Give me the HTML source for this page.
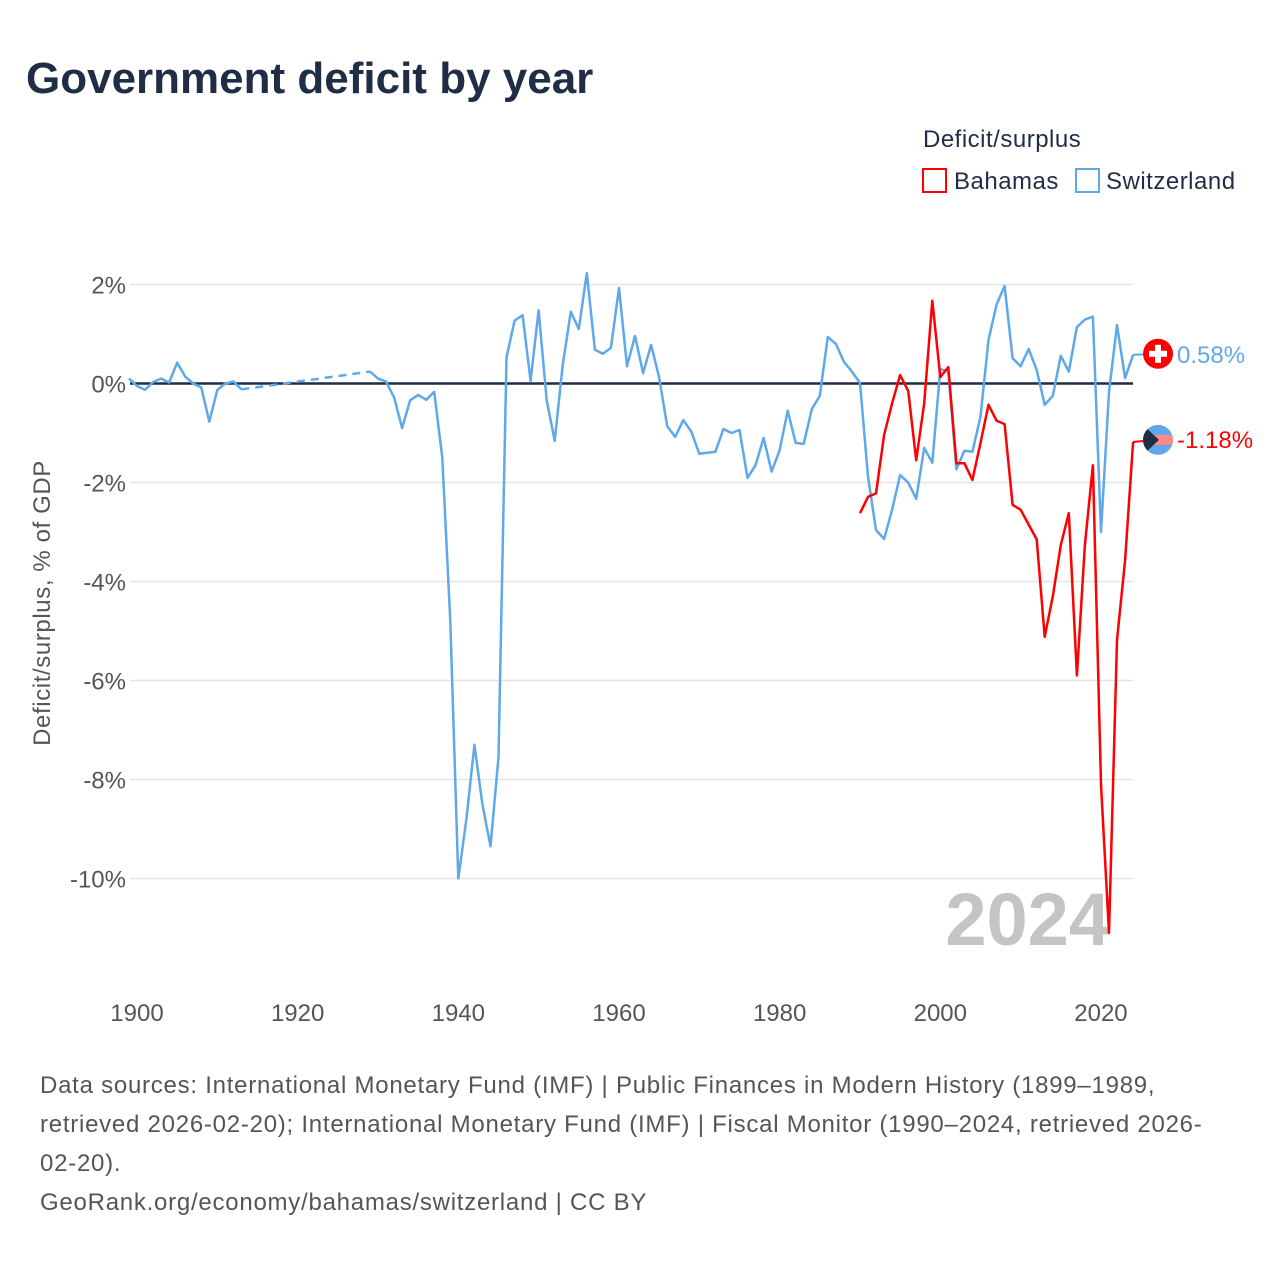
<!DOCTYPE html>
<html><head><meta charset="utf-8"><style>
body{margin:0;background:#fff;width:1280px;height:1280px;overflow:hidden;font-family:"Liberation Sans",sans-serif}
</style></head><body>
<svg id="chart" width="1280" height="1280" xmlns="http://www.w3.org/2000/svg" style="font-family:'Liberation Sans',sans-serif">
<text x="26" y="93" font-size="44" font-weight="bold" fill="#1f2d45">Government deficit by year</text>
<g letter-spacing="0.5">
<text x="923" y="147" font-size="24" fill="#1f2d45">Deficit/surplus</text>
<g><rect x="923" y="169" width="23" height="23" fill="#fff" stroke="#f00" stroke-width="2"/><text x="954" y="189" font-size="24" fill="#1f2d45">Bahamas</text></g>
<g><rect x="1076" y="169" width="23" height="23" fill="#fff" stroke="#5fa8ea" stroke-width="2"/><text x="1106" y="189" font-size="24" fill="#1f2d45">Switzerland</text></g>
</g>
<text transform="translate(50,603) rotate(-90)" text-anchor="middle" font-size="24" fill="#555" letter-spacing="0.6">Deficit/surplus, % of GDP</text>
<g id="grid"></g><g id="yticks"></g><g id="xticks"></g>
<text x="1110" y="945" text-anchor="end" font-size="74" font-weight="bold" fill="#c4c4c4">2024</text>
<g id="series"></g><g id="ends"></g>
<g font-size="24" fill="#555" letter-spacing="0.75">
<text x="40" y="1093">Data sources: International Monetary Fund (IMF) | Public Finances in Modern History (1899–1989,</text>
<text x="40" y="1132">retrieved 2026-02-20); International Monetary Fund (IMF) | Fiscal Monitor (1990–2024, retrieved 2026-</text>
<text x="40" y="1171">02-20).</text>
<text x="40" y="1210">GeoRank.org/economy/bahamas/switzerland | CC BY</text>
</g>
</svg>
<script>
const swYears1=[1899,1900,1901,1902,1903,1904,1905,1906,1907,1908,1909,1910,1911,1912,1913];
const swVals1=[0.1,-0.05,-0.13,0.03,0.1,0.02,0.42,0.14,0,-0.08,-0.77,-0.13,0,0.04,-0.12];
const swYears2=[];for(let y=1929;y<=2024;y++)swYears2.push(y);
const swVals2=[0.24,0.1,0.04,-0.28,-0.9,-0.34,-0.23,-0.33,-0.17,-1.5,-4.8,-10.0,-8.8,-7.3,-8.5,-9.35,-7.55,0.53,1.27,1.38,0.05,1.48,-0.34,-1.16,0.37,1.45,1.1,2.23,0.68,0.6,0.72,1.93,0.35,0.96,0.21,0.78,0.13,-0.86,-1.08,-0.74,-0.97,-1.42,-1.4,-1.38,-0.92,-1.0,-0.94,-1.91,-1.65,-1.1,-1.78,-1.35,-0.55,-1.2,-1.22,-0.52,-0.25,0.94,0.8,0.44,0.24,0.01,-1.88,-2.96,-3.14,-2.55,-1.85,-2.0,-2.33,-1.3,-1.6,0.29,0.24,-1.73,-1.36,-1.38,-0.67,0.88,1.59,1.97,0.51,0.35,0.7,0.27,-0.43,-0.25,0.56,0.24,1.14,1.29,1.35,-3.0,-0.17,1.18,0.11,0.58];
const bhYears=[];for(let y=1990;y<=2024;y++)bhYears.push(y);
const bhVals=[-2.62,-2.29,-2.22,-1.04,-0.4,0.17,-0.15,-1.55,-0.4,1.67,0.13,0.33,-1.61,-1.61,-1.95,-1.2,-0.43,-0.75,-0.82,-2.45,-2.55,-2.85,-3.15,-5.12,-4.3,-3.26,-2.62,-5.9,-3.26,-1.65,-8.1,-11.1,-5.18,-3.57,-1.18];
const yTicks=[2,0,-2,-4,-6,-8,-10];
const xTicks=[1900,1920,1940,1960,1980,2000,2020];
const X=yr=>137+(yr-1900)*8.033;
const Y=v=>383.5-v*49.5;
const NS="http://www.w3.org/2000/svg";
function mk(t,a,p){const e=document.createElementNS(NS,t);for(const k in a)e.setAttribute(k,a[k]);p.appendChild(e);return e;}
const grid=document.getElementById('grid'),yt=document.getElementById('yticks'),xt=document.getElementById('xticks');
yTicks.forEach(v=>{
 const l=mk('line',{x1:130,x2:1133,y1:Y(v),y2:Y(v),stroke:v===0?'#1f2d45':'#e4e4e4','stroke-width':v===0?2.5:1.5},grid);
 
 
 const t=mk('text',{x:126,y:Y(v)+9,'text-anchor':'end','font-size':24,fill:'#555'},yt);
 t.textContent=v+'%';
 
 
});
xTicks.forEach(yr=>{
 const t=mk('text',{x:X(yr),y:1021,'text-anchor':'middle','font-size':24,fill:'#555'},xt);
 t.textContent=yr;
 
 
});
const ser=document.getElementById('series');
function path(xs,vs){return xs.map((y,i)=>(i?'L':'M')+X(y).toFixed(1)+','+Y(vs[i]).toFixed(1)).join('');}
let p=mk('path',{d:path(swYears1,swVals1),fill:'none',stroke:'#5fa8ea','stroke-width':2.5,'stroke-linejoin':'round'},ser);


p=mk('path',{d:path([swYears1[swYears1.length-1],swYears2[0]],[swVals1[swVals1.length-1],swVals2[0]]),fill:'none',stroke:'#5fa8ea','stroke-width':2.5,'stroke-dasharray':'8,6'},ser);


p=mk('path',{d:path(swYears2,swVals2),fill:'none',stroke:'#5fa8ea','stroke-width':2.5,'stroke-linejoin':'round'},ser);


p=mk('path',{d:path(bhYears,bhVals),fill:'none',stroke:'#f00','stroke-width':2.5,'stroke-linejoin':'round'},ser);


const ends=document.getElementById('ends');
const swV=swVals2[swVals2.length-1],bhV=bhVals[bhVals.length-1];
const cx=1158,swy=Y(swV)-1,bhy=Y(bhV)-2;
mk('line',{x1:X(2024),x2:cx,y1:Y(swV),y2:swy,stroke:'#5fa8ea','stroke-width':2},ends);
mk('line',{x1:X(2024),x2:cx,y1:Y(bhV),y2:bhy,stroke:'#f00','stroke-width':2},ends);
const g1=mk('g',{},ends);


mk('circle',{cx:cx,cy:swy,r:15,fill:'#f00'},g1);
mk('rect',{x:cx-3,y:swy-9,width:6,height:18,fill:'#fff'},g1);
mk('rect',{x:cx-9,y:swy-3,width:18,height:6,fill:'#fff'},g1);
const g2=mk('g',{},ends);


const cp=mk('clipPath',{id:'bc'},g2);mk('circle',{cx:cx,cy:bhy,r:15},cp);
const gg=mk('g',{'clip-path':'url(#bc)'},g2);
mk('rect',{x:cx-15,y:bhy-15,width:30,height:30,fill:'#5fa8ea'},gg);
mk('rect',{x:cx-15,y:bhy-5,width:30,height:10,fill:'#f88'},gg);
mk('polygon',{points:`${cx-15},${bhy-15} ${cx+1},${bhy} ${cx-15},${bhy+15}`,fill:'#1f2d45'},gg);
let t=mk('text',{x:1177,y:swy+9,'font-size':24,fill:'#5fa8ea'},ends);t.textContent=swV.toFixed(2)+'%';


t=mk('text',{x:1177,y:bhy+8,'font-size':24,fill:'#f00'},ends);t.textContent=bhV.toFixed(2)+'%';


</script>
</body></html>
